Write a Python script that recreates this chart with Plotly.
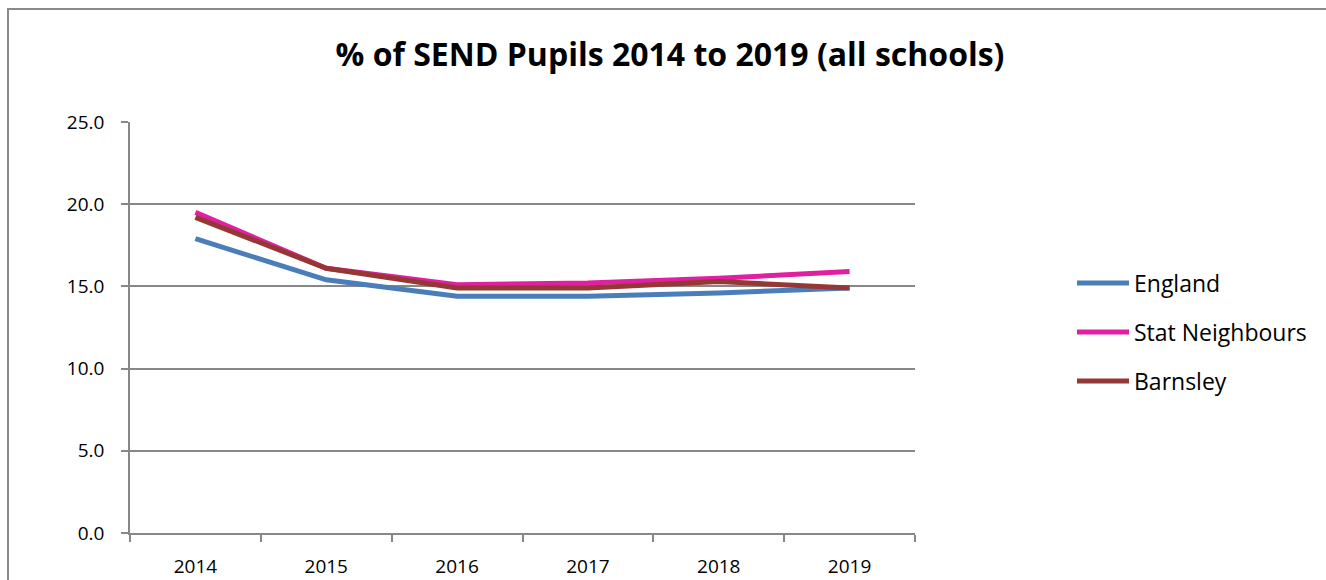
import plotly.graph_objects as go

years = ["2014", "2015", "2016", "2017", "2018", "2019"]
england = [17.9, 15.4, 14.4, 14.4, 14.6, 14.9]
stat_neighbours = [19.5, 16.1, 15.1, 15.2, 15.5, 15.9]
barnsley = [19.2, 16.1, 14.9, 14.9, 15.3, 14.9]
y_ticks = [0, 5, 10, 15, 20, 25]

series = [
    ("England", england, "#4A7EBB"),
    ("Stat Neighbours", stat_neighbours, "#E020A0"),
    ("Barnsley", barnsley, "#953735"),
]

FONT = "Open Sans"
W, H = 1326, 580
L, R, T, B = 130, 915, 122, 533

def px_x(p):
    return (p - L) / (R - L)

def px_y(p):
    return (B - p) / (B - T)

fig = go.Figure()
for name, vals, col in series:
    fig.add_trace(go.Scatter(x=years, y=vals, mode="lines", name=name,
                             line=dict(color=col, width=5), showlegend=False))

shapes = []
annotations = []
# outer chart border
shapes.append(dict(type="rect", xref="paper", yref="paper",
                   x0=px_x(8), x1=px_x(1340), y0=px_y(600), y1=px_y(9),
                   line=dict(color="#8a8a8a", width=2), layer="below"))
# custom legend
leg_y = [283, 332, 381]
for (name, vals, col), ly in zip(series, leg_y):
    shapes.append(dict(type="line", xref="paper", yref="paper",
                       x0=px_x(1077), x1=px_x(1129), y0=px_y(ly), y1=px_y(ly),
                       line=dict(color=col, width=5)))
    annotations.append(dict(x=px_x(1132), y=px_y(ly), xref="paper", yref="paper",
                            text=name, showarrow=False, xanchor="left", yanchor="middle",
                            font=dict(family=FONT, size=23, color="#000")))

fig.update_layout(
    width=W, height=H, autosize=False,
    margin=dict(l=L, r=W - R, t=T, b=H - B, autoexpand=False),
    paper_bgcolor="white", plot_bgcolor="white",
    title=dict(text="<b>% of SEND Pupils 2014 to 2019 (all schools)</b>",
               x=(670) / W, xanchor="center", y=1 - 55 / H, yanchor="middle",
               font=dict(family=FONT, size=32, color="#000")),
    shapes=shapes, annotations=annotations,
    showlegend=False,
)
fig.update_xaxes(type="category", range=[-0.5, 5.5], tickson="boundaries",
                 ticks="outside", ticklen=7, tickcolor="#878787", tickwidth=1.5,
                 showline=True, linecolor="#878787", linewidth=1.5,
                 showgrid=False, ticklabelstandoff=15, automargin=False,
                 tickfont=dict(family=FONT, size=19, color="#000"))
fig.update_yaxes(range=[0, 25], tickvals=y_ticks,
                 ticktext=[f"{v:.1f}" for v in y_ticks],
                 ticks="outside", ticklen=7, tickcolor="#878787", tickwidth=1.5,
                 showline=True, linecolor="#878787", linewidth=1.5,
                 showgrid=True, gridcolor="#878787", gridwidth=1.5,
                 zeroline=False, ticklabelstandoff=13, automargin=False,
                 tickfont=dict(family=FONT, size=19, color="#000"))

fig.write_html("out.html")
